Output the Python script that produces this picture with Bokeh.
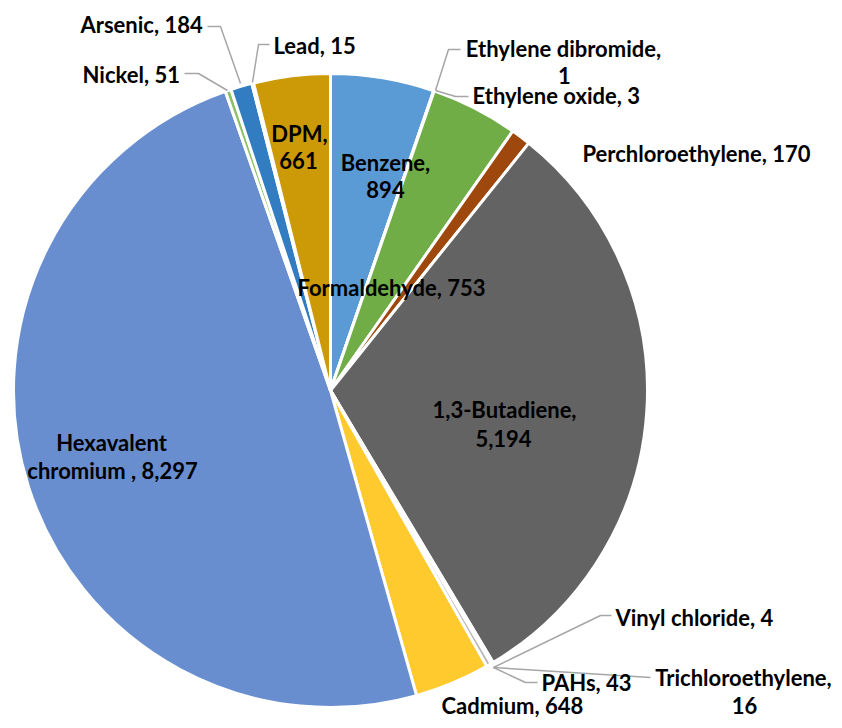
import numpy as np
from bokeh.plotting import figure
from bokeh.models import ColumnDataSource, Range1d
from bokeh.core.properties import value
from bokeh.embed import file_html
from bokeh.resources import INLINE

# ---- data (clockwise from 12 o'clock) ----
names = ["Benzene", "Ethylene dibromide", "Ethylene oxide", "Formaldehyde",
         "Perchloroethylene", "1,3-Butadiene", "Vinyl chloride", "Trichloroethylene",
         "PAHs", "Cadmium", "Hexavalent chromium ", "Nickel", "Arsenic", "Lead", "DPM"]
values = [894, 1, 3, 753, 170, 5194, 4, 16, 43, 648, 8297, 51, 184, 15, 661]
colors = ["#5B9BD5", "#ED7D31", "#A5A5A5", "#70AD47", "#9E480E", "#636363",
          "#264478", "#F1975A", "#B7B7B7", "#FFCA2E", "#698ED0", "#8CC168",
          "#327DC2", "#D26012", "#CC9A06"]

W, H = 842, 728


def px(x, y):
    """picture pixel -> data coordinates"""
    return x, H - y


vals = np.array(values, dtype=float)
frac = vals / vals.sum()
cum_end = np.cumsum(frac) * 2 * np.pi
cum_start = cum_end - frac * 2 * np.pi
start_ang = np.pi / 2 - cum_start
end_ang = np.pi / 2 - cum_end

cx, cy = px(330, 390)
R = 317

p = figure(width=W, height=H, output_backend="svg", toolbar_location=None,
           x_range=Range1d(0, W), y_range=Range1d(0, H), min_border=0)
p.axis.visible = False
p.grid.visible = False
p.outline_line_color = None
p.background_fill_color = "white"

src = ColumnDataSource(dict(x=[cx] * len(vals), y=[cy] * len(vals), start=start_ang,
                            end=end_ang, color=colors, name=names, value=values))
p.wedge(x="x", y="y", radius=R, start_angle="start", end_angle="end",
        direction="clock", fill_color="color", line_color="white", line_width=3,
        source=src)


def label_text(i):
    return f"{names[i]}, {values[i]:,}"


def split_label(i, mode):
    t = label_text(i)
    if mode == "comma":
        k = t.index(", ", len(names[i].rstrip()) - 1)
        return [t[:k + 1], t[k + 2:]]
    if mode == "space":
        k = t.index(" ")
        return [t[:k], t[k + 1:]]
    return [t]


# ---- label layout: lines as (x, baseline_y, align) in picture pixels ----
layout = {
    "Benzene": ("comma", [(385, 162, "center"), (385, 189, "center")]),
    "Ethylene dibromide": ("comma", [(563, 48, "center"), (564, 75, "center")]),
    "Ethylene oxide": ("one", [(472, 95, "left")]),
    "Formaldehyde": ("one", [(391, 287, "center")]),
    "Perchloroethylene": ("one", [(582, 153, "left")]),
    "1,3-Butadiene": ("comma", [(504, 409, "center"), (503, 438, "center")]),
    "Vinyl chloride": ("one", [(615, 617, "left")]),
    "Trichloroethylene": ("comma", [(743, 677, "center"), (744, 705, "center")]),
    "PAHs": ("one", [(541, 682, "left")]),
    "Cadmium": ("one", [(441, 705, "left")]),
    "Hexavalent chromium ": ("space", [(111, 442, "center"), (112, 470, "center")]),
    "Nickel": ("one", [(82, 74, "left")]),
    "Arsenic": ("one", [(80, 24, "left")]),
    "Lead": ("one", [(273, 45, "left")]),
    "DPM": ("comma", [(299, 133, "center"), (298, 160, "center")]),
}

leaders = {
    "Ethylene dibromide": [(435, 90), (448, 49), (460, 49)],
    "Ethylene oxide": [(435, 90), (455, 96), (468, 96)],
    "Vinyl chloride": [(493, 667), (600, 615), (611, 615)],
    "Trichloroethylene": [(493, 667), (650, 677)],
    "PAHs": [(493, 667), (525, 682), (537, 682)],
    "Nickel": [(227, 90), (198, 73), (184, 73)],
    "Arsenic": [(240, 83), (220, 26), (207, 26)],
    "Lead": [(252, 82), (258, 44), (269, 44)],
}

for nm, pts in leaders.items():
    xs, ys = zip(*[px(a, b) for a, b in pts])
    p.line(list(xs), list(ys), line_color="#A6A6A6", line_width=1.5)

tx, ty, tt, ta = [], [], [], []
for i, nm in enumerate(names):
    mode, pos = layout[nm]
    lines = split_label(i, mode)
    for line, (x, y, al) in zip(lines, pos):
        dx, dy = px(x, y)
        tx.append(dx)
        ty.append(dy)
        tt.append(line)
        ta.append(al)

tsrc = ColumnDataSource(dict(x=tx, y=ty, text=tt, align=ta))
p.text(x="x", y="y", text="text", text_align="align", text_baseline="alphabetic",
       text_font=value("Lato"), text_font_style="bold", text_font_size="22px",
       text_color="#000000", source=tsrc)

open("out.html", "w").write(file_html(p, INLINE))
